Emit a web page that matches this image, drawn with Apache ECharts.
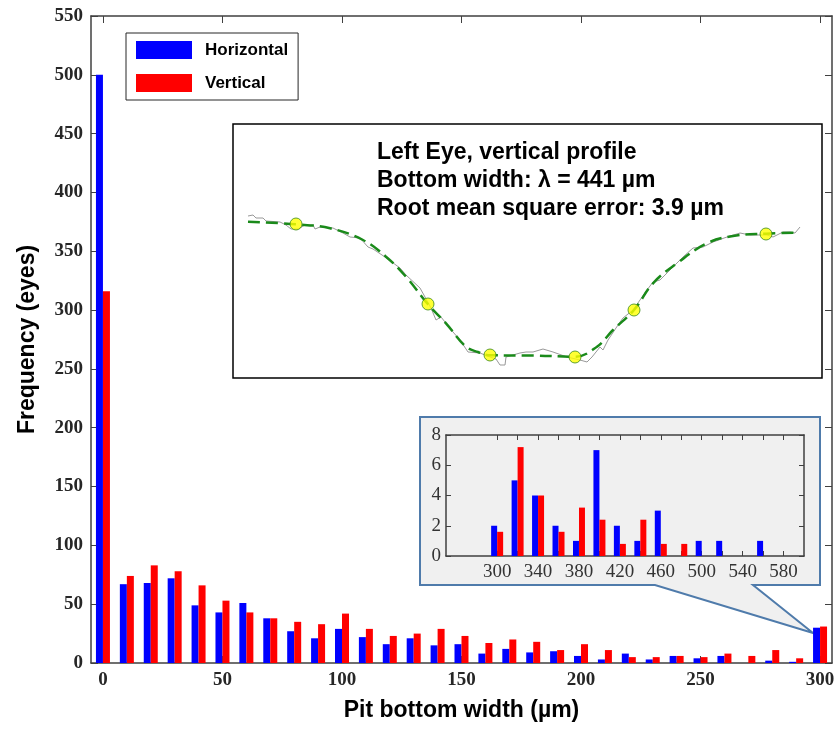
<!DOCTYPE html>
<html>
<head>
<meta charset="utf-8">
<script src="https://cdn.jsdelivr.net/npm/echarts@6/dist/echarts.min.js"></script>
<style>
  html, body { margin: 0; padding: 0; background: #fff; }
  #chart { width: 838px; height: 729px; }
</style>
</head>
<body>
<div id="chart"></div>
<script>
// main histogram, 10 um bins
const bins = [0, 10, 20, 30, 40, 50, 60, 70, 80, 90, 100, 110, 120, 130, 140, 150,
  160, 170, 180, 190, 200, 210, 220, 230, 240, 250, 260, 270, 280, 290, 300];
const horizontal = [500, 67, 68, 72, 49, 43, 51, 38, 27, 21, 29, 22, 16, 21, 15, 16,
  8, 12, 9, 10, 6, 3, 8, 3, 6, 4, 6, 0, 2, 1, 30];
const vertical = [316, 74, 83, 78, 66, 53, 43, 38, 35, 33, 42, 29, 23, 25, 29, 23,
  17, 20, 18, 11, 16, 11, 5, 5, 6, 5, 8, 6, 11, 4, 31];
const xTicks = [0, 50, 100, 150, 200, 250, 300];

// zoomed histogram (>= 300 um)
const insetBins = [300, 320, 340, 360, 380, 400, 420, 440, 460, 480, 500, 520, 540, 560, 580];
const insetHorizontal = [2, 5, 4, 2, 1, 7, 2, 1, 3, 0, 1, 1, 0, 1, 0];
const insetVertical = [1.6, 7.2, 4, 1.6, 3.2, 2.4, 0.8, 2.4, 0.8, 0.8, 0, 0, 0, 0, 0];
const insetTicks = [300, 320, 340, 360, 380, 400, 420, 440, 460, 480, 500, 520, 540, 560, 580];
const insetLabels = [300, 340, 380, 420, 460, 500, 540, 580];

// example profile: [position, depth]
const profileFit = [[15, 5.7], [63, 8.3], [97, 12.3], [130, 24], [153, 40.7], [173, 60.7],
  [195, 88.3], [213, 107.3], [233, 130.7], [245, 136], [257, 139.3], [300, 139.5],
  [342, 140.7], [364, 130.7], [380, 114], [401, 94], [420, 67.3], [444, 47.3],
  [474, 27.3], [500, 20], [533, 17.7], [565, 16.7]];
const profileRaw = [[15, 0], [20, -1], [23, 2], [30, 2], [33, 5], [47, 6], [53, 9], [58, 13],
  [65, 13], [72, 9], [80, 9], [82, 13], [87, 11], [100, 12], [110, 17], [117, 21], [127, 22],
  [135, 31], [140, 33], [152, 41], [167, 52], [173, 59], [187, 72], [192, 81], [198, 92],
  [203, 104], [208, 101], [220, 116], [227, 124], [235, 136], [247, 137], [257, 141],
  [263, 143], [267, 149], [272, 149], [273, 141], [287, 137], [293, 136], [300, 136],
  [310, 133], [312, 133], [320, 136], [334, 141], [347, 144], [354, 146], [359, 141],
  [367, 131], [370, 134], [375, 124], [387, 106], [390, 102], [400, 94], [414, 74],
  [420, 66], [427, 64], [440, 51], [450, 41], [460, 32], [470, 31], [480, 26], [494, 21],
  [507, 17], [517, 19], [534, 19], [540, 21], [550, 16], [557, 16], [562, 17], [567, 11]];
const profileMarks = [[63, 8], [195, 88], [257, 139], [342, 141], [401, 94], [533, 18]];

const chart = echarts.init(document.getElementById('chart'));

const axisColor = '#404040';
const tickFont = { fontFamily: 'Liberation Serif', fontWeight: 'bold', fontSize: 19, color: '#262626' };
const insetFont = { fontFamily: 'Liberation Serif', fontSize: 19, color: '#333' };
const titleFont = { fontFamily: 'Liberation Sans', fontWeight: 'bold', fontSize: 23, color: '#000' };

// box axis: line + inward ticks, no labels
function boxAxis(extra) {
  return Object.assign({
    type: 'value',
    axisLine: { show: true, onZero: false, lineStyle: { color: axisColor, width: 1.5 } },
    axisTick: { show: true, inside: true, length: 7, lineStyle: { color: axisColor } },
    axisLabel: { show: false },
    splitLine: { show: false }
  }, extra);
}

const option = {
  animation: false,
  color: ['#0000ff', '#ff0000'],
  grid: [
    { left: 91, top: 16, width: 741, height: 647, containLabel: false, outerBoundsMode: 'none' },
    { left: 446, top: 435, width: 358, height: 121, containLabel: false, outerBoundsMode: 'none' },
    {
      left: 233, top: 124, width: 589, height: 254, containLabel: false, outerBoundsMode: 'none',
      show: true, backgroundColor: '#fff', borderColor: '#000', borderWidth: 1.5
    }
  ],
  legend: {
    data: ['Horizontal', 'Vertical'],
    left: 126, top: 33,
    orient: 'vertical',
    selectedMode: false,
    icon: 'rect',
    itemWidth: 56, itemHeight: 18, itemGap: 15,
    padding: [8, 10, 8, 10],
    borderColor: '#262626', borderWidth: 1,
    backgroundColor: '#fff',
    textStyle: { fontFamily: 'Liberation Sans', fontWeight: 'bold', fontSize: 17, color: '#000', padding: [0, 0, 0, 8] }
  },
  xAxis: [
    boxAxis({
      gridIndex: 0, min: -5, max: 305, position: 'bottom',
      name: 'Pit bottom width (µm)', nameLocation: 'middle', nameGap: 36, nameTextStyle: titleFont,
      axisTick: { show: true, inside: true, length: 7, customValues: xTicks, lineStyle: { color: axisColor } },
      axisLabel: Object.assign({ show: true, margin: 8, customValues: xTicks }, tickFont)
    }),
    boxAxis({
      gridIndex: 0, min: -5, max: 305, position: 'top',
      axisTick: { show: true, inside: true, length: 7, customValues: xTicks, lineStyle: { color: axisColor } }
    }),
    boxAxis({
      gridIndex: 1, min: 250, max: 600, position: 'bottom',
      axisTick: { show: true, inside: true, length: 5, customValues: insetTicks, lineStyle: { color: axisColor } },
      axisLabel: Object.assign({ show: true, margin: 7, customValues: insetLabels }, insetFont)
    }),
    boxAxis({
      gridIndex: 1, min: 250, max: 600, position: 'top',
      axisTick: { show: true, inside: true, length: 5, customValues: insetTicks, lineStyle: { color: axisColor } }
    }),
    { gridIndex: 2, type: 'value', min: 0, max: 589, show: false }
  ],
  yAxis: [
    boxAxis({
      gridIndex: 0, min: 0, max: 550, interval: 50, position: 'left',
      name: 'Frequency (eyes)', nameLocation: 'middle', nameGap: 52, nameTextStyle: titleFont,
      axisLabel: Object.assign({ show: true, margin: 8 }, tickFont)
    }),
    boxAxis({ gridIndex: 0, min: 0, max: 550, interval: 50, position: 'right' }),
    boxAxis({
      gridIndex: 1, min: 0, max: 8, interval: 2, position: 'left',
      axisTick: { show: true, inside: true, length: 5, lineStyle: { color: axisColor } },
      axisLabel: Object.assign({ show: true, margin: 5 }, insetFont)
    }),
    boxAxis({
      gridIndex: 1, min: 0, max: 8, interval: 2, position: 'right',
      axisTick: { show: true, inside: true, length: 5, lineStyle: { color: axisColor } }
    }),
    { gridIndex: 2, type: 'value', min: -92, max: 162, inverse: true, show: false }
  ],
  graphic: [
    {
      // callout behind the zoomed histogram
      type: 'polygon', z: -1,
      shape: { points: [[420, 417], [820, 417], [820, 585], [753, 585], [813, 633], [655, 585], [420, 585]] },
      style: { fill: '#f0f0f0', stroke: '#4f7bab', lineWidth: 2 }
    },
    {
      type: 'text', left: 377, top: 139, z: 10,
      style: {
        text: 'Left Eye, vertical profile\nBottom width: λ = 441 µm\nRoot mean square error: 3.9 µm',
        font: 'bold 23px "Liberation Sans"', lineHeight: 28, fill: '#000'
      }
    }
  ],
  series: [
    {
      name: 'Horizontal', type: 'bar', xAxisIndex: 0, yAxisIndex: 0,
      barWidth: 7, barGap: '0%',
      data: bins.map((b, i) => [b, horizontal[i]])
    },
    {
      name: 'Vertical', type: 'bar', xAxisIndex: 0, yAxisIndex: 0,
      barWidth: 7, barGap: '0%',
      data: bins.map((b, i) => [b, vertical[i]])
    },
    {
      name: 'Horizontal', type: 'bar', xAxisIndex: 2, yAxisIndex: 2,
      barWidth: 6, barGap: '0%',
      data: insetBins.map((b, i) => [b, insetHorizontal[i]])
    },
    {
      name: 'Vertical', type: 'bar', xAxisIndex: 2, yAxisIndex: 2,
      barWidth: 6, barGap: '0%',
      data: insetBins.map((b, i) => [b, insetVertical[i]])
    },
    {
      type: 'line', xAxisIndex: 4, yAxisIndex: 4, symbol: 'none',
      lineStyle: { color: '#999', width: 1 },
      data: profileRaw
    },
    {
      type: 'line', xAxisIndex: 4, yAxisIndex: 4, symbol: 'none', smooth: 0.4,
      lineStyle: { color: '#1a8a1a', width: 2.5, type: [12, 6] },
      data: profileFit
    },
    {
      type: 'scatter', xAxisIndex: 4, yAxisIndex: 4, symbolSize: 12, z: 5,
      itemStyle: { color: '#ffff00', borderColor: '#3a8a1a', borderWidth: 1 },
      data: profileMarks
    }
  ]
};

chart.setOption(option);
</script>
</body>
</html>
